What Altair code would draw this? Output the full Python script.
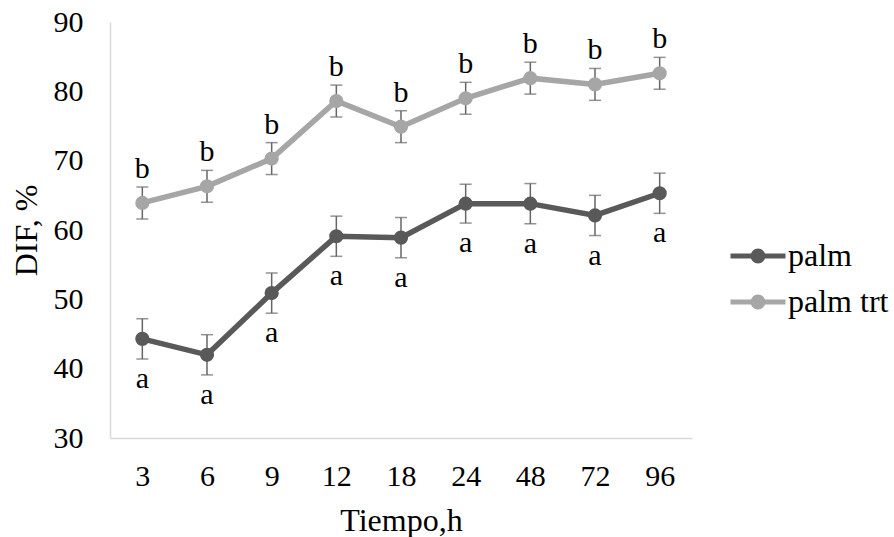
import altair as alt
import pandas as pd

# Sampling times (h) and series
hours = ["3", "6", "9", "12", "18", "24", "48", "72", "96"]
series_names = ["palm", "palm trt"]

# DIF (%) means, error half-widths and significance letters
palm = [44.3, 42.0, 50.9, 59.1, 58.9, 63.8, 63.8, 62.1, 65.3]
palm_err = [2.9, 2.9, 2.9, 2.9, 2.9, 2.8, 2.9, 2.9, 2.9]
palm_letters = ["a", "a", "a", "a", "a", "a", "a", "a", "a"]

palm_trt = [63.9, 66.3, 70.3, 78.6, 74.9, 79.0, 81.9, 81.0, 82.6]
palm_trt_err = [2.3, 2.3, 2.3, 2.3, 2.3, 2.3, 2.3, 2.3, 2.3]
palm_trt_letters = ["b", "b", "b", "b", "b", "b", "b", "b", "b"]

y_ticks = [30, 40, 50, 60, 70, 80, 90]

FONT = "Liberation Serif"
DARK = "#595959"
LIGHT = "#a6a6a6"
ERR_COLOR = "#666666"
AXIS_COLOR = "#d9d9d9"


def frame(name, values, errs, letters):
    return pd.DataFrame({
        "hour": hours,
        "series": name,
        "value": values,
        "lo": [v - e for v, e in zip(values, errs)],
        "hi": [v + e for v, e in zip(values, errs)],
        "letter": letters,
    })


df_palm = frame("palm", palm, palm_err, palm_letters)
df_trt = frame("palm trt", palm_trt, palm_trt_err, palm_trt_letters)
df = pd.concat([df_palm, df_trt], ignore_index=True)

x_enc = alt.X(
    "hour:O",
    sort=hours,
    scale=alt.Scale(type="point", padding=0.5),
    axis=alt.Axis(title="Tiempo,h", labelAngle=0, labelPadding=23, titlePadding=14),
)
y_scale = alt.Scale(domain=[30, 90], nice=False, zero=False)
y_axis = alt.Axis(values=y_ticks, title="DIF, %", labelPadding=27, titlePadding=10)

stroke_scale = alt.Scale(domain=series_names, range=[DARK, LIGHT])
fill_scale = alt.Scale(domain=series_names, range=[DARK, LIGHT])

# line with a dot in the middle, used as the legend symbol
legend_symbol = "M-1,0H1M-0.18,0A0.18,0.18,0,1,1,0.18,0A0.18,0.18,0,1,1,-0.18,0Z"
legend = alt.Legend(
    title=None,
    orient="none",
    legendX=618,
    legendY=204,
    padding=0,
    symbolType=legend_symbol,
    symbolSize=3025,
    symbolStrokeWidth=5,
    symbolOpacity=1,
    rowPadding=-6,
    labelOffset=0,
    labelFont=FONT,
    labelFontSize=32,
    labelColor="black",
    labelLimit=300,
)

base = alt.Chart(df).encode(x=x_enc)

bars = base.mark_rule(color=ERR_COLOR, strokeWidth=1.5).encode(
    y=alt.Y("lo:Q", scale=y_scale, axis=y_axis), y2="hi:Q"
)
caps_hi = base.mark_tick(color=ERR_COLOR, size=12, thickness=1.5, orient="horizontal").encode(
    y=alt.Y("hi:Q", scale=y_scale)
)
caps_lo = base.mark_tick(color=ERR_COLOR, size=12, thickness=1.5, orient="horizontal").encode(
    y=alt.Y("lo:Q", scale=y_scale)
)
lines = base.mark_line(strokeWidth=5.5).encode(
    y=alt.Y("value:Q", scale=y_scale),
    stroke=alt.Stroke("series:N", scale=stroke_scale, legend=legend),
)
points = base.mark_point(filled=True, size=85, strokeWidth=5, opacity=1).encode(
    y=alt.Y("value:Q", scale=y_scale),
    fill=alt.Fill("series:N", scale=fill_scale, legend=legend),
    stroke=alt.Stroke("series:N", scale=stroke_scale, legend=legend),
)

letters_b = alt.Chart(df_trt).mark_text(
    font=FONT, fontSize=30, baseline="alphabetic", dy=-9, color="black"
).encode(x=x_enc, y=alt.Y("hi:Q", scale=y_scale), text="letter:N")
letters_a = alt.Chart(df_palm).mark_text(
    font=FONT, fontSize=30, baseline="alphabetic", dy=29, color="black"
).encode(x=x_enc, y=alt.Y("lo:Q", scale=y_scale), text="letter:N")

chart = (
    alt.layer(bars, caps_hi, caps_lo, lines, points, letters_b, letters_a)
    .properties(
        width=582,
        height=416,
        autosize=alt.AutoSizeParams(type="none"),
        padding={"left": 110, "top": 22, "right": 202, "bottom": 99},
        background="white",
    )
    .configure(font=FONT)
    .configure_view(stroke=None)
    .configure_axis(
        grid=False,
        ticks=False,
        tickSize=0,
        domainColor=AXIS_COLOR,
        domainWidth=1.5,
        labelFont=FONT,
        labelFontSize=30,
        labelColor="black",
        titleFont=FONT,
        titleFontSize=32,
        titleFontWeight="normal",
        titleColor="black",
    )
    .configure_legend(
        labelFont=FONT,
        labelFontSize=32,
        labelColor="black",
        labelLimit=300,
    )
)

chart.save("out.html", embed_options={"renderer": "svg", "actions": False})
